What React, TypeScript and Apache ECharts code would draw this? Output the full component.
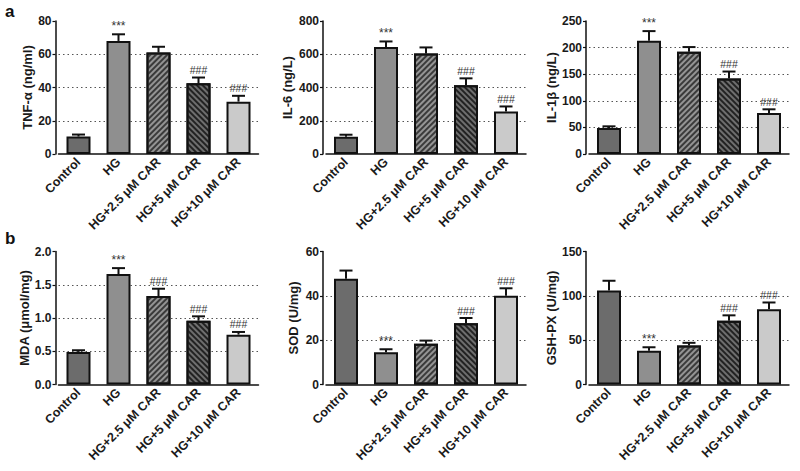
import React, { useEffect, useRef } from "react";
import * as echarts from "echarts";

const categories = ["Control", "HG", "HG+2.5 μM CAR", "HG+5 μM CAR", "HG+10 μM CAR"];

const tnfMean = [10.5, 68, 61, 42.5, 31.5];
const tnfErr = [1.2, 4, 3.5, 3.5, 3.5];
const tnfSig = ["", "***", "", "###", "###"];

const il6Mean = [104, 643, 605, 413, 256];
const il6Err = [12, 34, 36, 42, 30];
const il6Sig = ["", "***", "", "###", "###"];

const il1bMean = [49, 213, 192, 142, 77];
const il1bErr = [3, 18, 9, 13, 7];
const il1bSig = ["", "***", "", "###", "###"];

const mdaMean = [0.49, 1.66, 1.33, 0.96, 0.75];
const mdaErr = [0.025, 0.09, 0.11, 0.065, 0.04];
const mdaSig = ["", "***", "###", "###", "###"];

const sodMean = [47.7, 14.5, 18.4, 27.6, 40];
const sodErr = [3.7, 1.4, 1.4, 2.4, 3.4];
const sodSig = ["", "***", "", "###", "###"];

const gshMean = [106, 38, 44, 72, 85];
const gshErr = [11, 4, 3, 6, 7.5];
const gshSig = ["", "***", "", "###", "###"];

const yNames = ["TNF-α (ng/ml)", "IL-6 (ng/L)", "IL-1β (ng/L)", "MDA (μmol/mg)", "SOD (U/mg)", "GSH-PX (U/mg)"];
const yMax = [80, 800, 250, 2.0, 60, 150];
const yInterval = [20, 200, 50, 0.5, 20, 50];

const FONT = "Liberation Sans, Arial, Helvetica, sans-serif";
const TEXT = "#1a1a1a";

const barStyles = [
  { color: "#6c6c6c", borderColor: "#111", borderWidth: 2 },
  { color: "#8f8f8f", borderColor: "#111", borderWidth: 2 },
  {
    color: "#949494",
    borderColor: "#111",
    borderWidth: 2,
    decal: {
      symbol: "rect",
      symbolSize: 1,
      dashArrayX: [1, 0],
      dashArrayY: [1.5, 1.5],
      rotation: -Math.PI / 4,
      color: "#3a3a3a",
    },
  },
  {
    color: "#6e6e6e",
    borderColor: "#111",
    borderWidth: 2,
    decal: {
      symbol: "rect",
      symbolSize: 1,
      dashArrayX: [1, 0],
      dashArrayY: [1.6, 1.4],
      rotation: Math.PI / 4,
      color: "#222222",
    },
  },
  { color: "#cacaca", borderColor: "#111", borderWidth: 2 },
];

export default function App() {
  const ref = useRef<HTMLDivElement>(null);

  useEffect(() => {
    if (!ref.current) return;
    const chart = echarts.init(ref.current, undefined, { renderer: "svg" });

    const means = [tnfMean, il6Mean, il1bMean, mdaMean, sodMean, gshMean];
    const errs = [tnfErr, il6Err, il1bErr, mdaErr, sodErr, gshErr];
    const sigs = [tnfSig, il6Sig, il1bSig, mdaSig, sodSig, gshSig];

    const lefts = [58.5, 326, 589];
    const tops = [21, 251.5];
    const nameGaps = [18.5, 29, 27, 25, 23, 25];

    const grids: any[] = [];
    const xAxes: any[] = [];
    const yAxes: any[] = [];
    const series: any[] = [];

    for (let p = 0; p < 6; p++) {
      const col = p % 3;
      const row = Math.floor(p / 3);
      grids.push({ left: lefts[col], top: tops[row], width: 200, height: 133, containLabel: false });
      xAxes.push({
        type: "category",
        gridIndex: p,
        data: categories,
        axisLine: { lineStyle: { color: "#111", width: 1.5 } },
        axisTick: { alignWithLabel: true, length: 4, lineStyle: { color: "#111", width: 1.2 } },
        axisLabel: {
          rotate: 45,
          interval: 0,
          margin: 6,
          fontFamily: FONT,
          fontWeight: "bold",
          fontSize: 12.5,
          color: TEXT,
        },
      });
      yAxes.push({
        type: "value",
        gridIndex: p,
        min: 0,
        max: yMax[p],
        interval: yInterval[p],
        offset: 3,
        name: yNames[p],
        nameLocation: "middle",
        nameGap: nameGaps[p],
        nameTextStyle: { fontFamily: FONT, fontWeight: "bold", fontSize: 13, color: TEXT },
        axisLine: { show: true, lineStyle: { color: "#111", width: 1.5 } },
        axisTick: { show: true, length: 3, lineStyle: { color: "#111", width: 1.2 } },
        axisLabel: {
          margin: 4,
          fontFamily: FONT,
          fontWeight: "bold",
          fontSize: 12,
          color: TEXT,
          formatter: p === 3 ? (v: number) => v.toFixed(1) : undefined,
        },
        splitLine: {
          show: true,
          showMinLine: false,
          showMaxLine: false,
          lineStyle: { type: [1.5, 3], color: "#555", width: 1 },
        },
      });
      series.push({
        type: "bar",
        xAxisIndex: p,
        yAxisIndex: p,
        barWidth: 24,
        data: means[p].map((v, i) => ({ value: v, itemStyle: barStyles[i] })),
      });
      const m = means[p];
      const e = errs[p];
      const s = sigs[p];
      series.push({
        type: "custom",
        xAxisIndex: p,
        yAxisIndex: p,
        z: 5,
        data: m.map((v, i) => [i, v, e[i]]),
        renderItem: (params: any, api: any) => {
          const idx = api.value(0);
          const mean = api.value(1);
          const err = api.value(2);
          const p0 = api.coord([idx, mean]);
          const p1 = api.coord([idx, mean + err]);
          const sig = s[params.dataIndex];
          const children: any[] = [
            {
              type: "line",
              shape: { x1: p0[0], y1: p0[1], x2: p1[0], y2: p1[1] },
              style: { stroke: "#111", lineWidth: 2 },
            },
            {
              type: "line",
              shape: { x1: p1[0] - 6.5, y1: p1[1], x2: p1[0] + 6.5, y2: p1[1] },
              style: { stroke: "#111", lineWidth: 2 },
            },
          ];
          if (sig) {
            children.push({
              type: "text",
              x: p1[0],
              y: p1[1] - 2,
              style: {
                text: sig,
                fill: "#333",
                font: (sig === "***" ? "12px " : "10.5px ") + FONT,
                align: "center",
                verticalAlign: "bottom",
              },
            });
          }
          return { type: "group", children };
        },
      });
    }

    chart.setOption({
      animation: false,
      backgroundColor: "#ffffff",
      grid: grids,
      xAxis: xAxes,
      yAxis: yAxes,
      series,
      graphic: [
        { type: "text", left: 5, top: 3, style: { text: "a", font: "bold 17px " + FONT, fill: "#111" } },
        { type: "text", left: 5, top: 230, style: { text: "b", font: "bold 17px " + FONT, fill: "#111" } },
      ],
    });

    return () => chart.dispose();
  }, []);

  return <div ref={ref} style={{ position: "fixed", left: 0, top: 0, width: 800, height: 471 }} />;
}
